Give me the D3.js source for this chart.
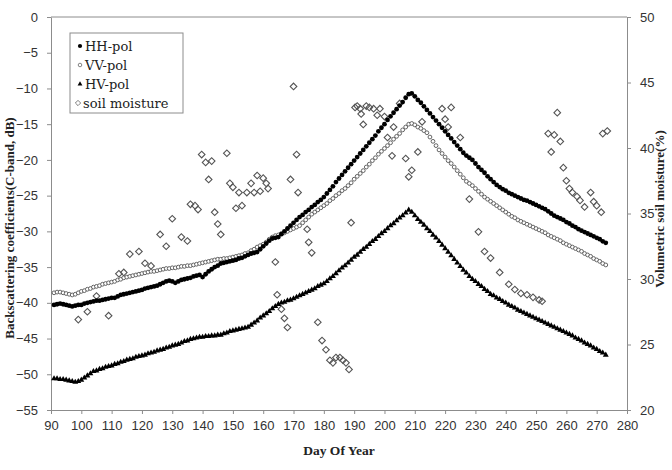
<!DOCTYPE html>
<html>
<head>
<meta charset="utf-8">
<script src="https://cdn.jsdelivr.net/npm/d3@7"></script>
<style>
  body { margin: 0; background: #fff; }
  svg { display: block; font-family: "Liberation Serif", "Times New Roman", serif; }
  .tick text { font-size: 13px; fill: #333; }
  .tick line, .domain { stroke: #8c8c8c; }
</style>
</head>
<body>
<div id="chart"></div>
<script>
// daily series, day 91 .. 273
var days = d3.range(91, 274);

var hhPol = [
  -40.3,-40.2,-40.1,-40.2,-40.3,-40.4,-40.5,-40.4,-40.3,-40.3,
  -40.1,-40.0,-39.9,-39.8,-39.7,-39.7,-39.6,-39.5,-39.4,-39.3,
  -39.3,-39.1,-38.9,-38.8,-38.7,-38.6,-38.5,-38.4,-38.3,-38.2,
  -38.0,-37.9,-37.8,-37.7,-37.6,-37.4,-37.2,-37.0,-36.9,-37.0,
  -37.2,-37.0,-36.8,-36.7,-36.6,-36.5,-36.3,-36.2,-36.1,-36.4,
  -36.0,-35.6,-35.3,-35.0,-34.8,-34.5,-34.4,-34.3,-34.2,-34.1,
  -34.0,-33.8,-33.7,-33.5,-33.3,-33.1,-33.0,-32.9,-32.5,-32.1,
  -31.7,-31.3,-31.0,-30.9,-30.8,-30.4,-30.0,-29.6,-29.2,-28.8,
  -28.4,-28.0,-27.7,-27.3,-27.0,-26.6,-26.3,-25.9,-25.6,-25.2,
  -24.7,-24.2,-23.7,-23.1,-22.6,-22.1,-21.6,-21.1,-20.6,-20.1,
  -19.6,-19.1,-18.6,-18.1,-17.6,-17.1,-16.6,-16.0,-15.5,-15.0,
  -14.4,-13.9,-13.4,-12.9,-12.4,-11.9,-11.3,-10.8,-10.7,-11.1,
  -11.6,-12.0,-12.5,-13.0,-13.5,-14.0,-14.5,-15.0,-15.5,-16.0,
  -16.5,-17.0,-17.5,-18.0,-18.5,-19.0,-19.4,-19.7,-20.0,-20.5,
  -21.0,-21.4,-21.8,-22.3,-22.7,-23.1,-23.5,-23.8,-24.1,-24.3,
  -24.6,-24.8,-25.0,-25.2,-25.4,-25.6,-25.7,-25.9,-26.1,-26.3,
  -26.5,-26.7,-26.9,-27.2,-27.5,-27.8,-28.0,-28.2,-28.4,-28.7,
  -28.9,-29.2,-29.4,-29.7,-29.9,-30.1,-30.3,-30.5,-30.7,-30.9,
  -31.1,-31.4,-31.6
];

var vvPol = [
  -38.6,-38.5,-38.5,-38.6,-38.7,-38.8,-38.9,-38.8,-38.6,-38.4,
  -38.3,-38.1,-38.0,-37.8,-37.7,-37.6,-37.4,-37.3,-37.2,-37.1,
  -37.0,-36.8,-36.7,-36.5,-36.4,-36.3,-36.2,-36.1,-36.0,-35.9,
  -35.8,-35.7,-35.6,-35.6,-35.5,-35.4,-35.3,-35.2,-35.2,-35.1,
  -35.1,-35.0,-34.9,-34.9,-34.8,-34.8,-34.7,-34.6,-34.5,-34.4,
  -34.3,-34.2,-34.1,-34.0,-33.9,-33.9,-33.8,-33.8,-33.7,-33.6,
  -33.5,-33.4,-33.3,-33.1,-33.0,-32.7,-32.5,-32.2,-32.0,-31.8,
  -31.5,-31.1,-30.8,-30.6,-30.5,-30.3,-30.2,-30.0,-29.8,-29.6,
  -29.4,-29.2,-28.8,-28.4,-28.0,-27.6,-27.3,-27.0,-26.7,-26.4,
  -26.1,-25.7,-25.4,-25.0,-24.7,-24.3,-24.0,-23.6,-23.2,-22.7,
  -22.3,-21.9,-21.5,-21.0,-20.6,-20.1,-19.7,-19.2,-18.8,-18.4,
  -18.0,-17.6,-17.1,-16.7,-16.3,-15.8,-15.4,-15.0,-14.9,-15.1,
  -15.4,-15.6,-15.9,-16.2,-16.8,-17.4,-18.0,-18.6,-19.1,-19.6,
  -20.1,-20.5,-21.0,-21.5,-22.0,-22.5,-23.0,-23.3,-23.6,-24.0,
  -24.4,-24.8,-25.2,-25.5,-25.8,-26.1,-26.4,-26.7,-27.0,-27.3,
  -27.6,-27.9,-28.1,-28.4,-28.6,-28.8,-29.0,-29.2,-29.4,-29.6,
  -29.8,-30.0,-30.2,-30.5,-30.7,-30.9,-31.1,-31.3,-31.6,-31.8,
  -32.0,-32.2,-32.4,-32.6,-32.8,-33.1,-33.3,-33.5,-33.8,-34.0,
  -34.2,-34.5,-34.7
];

var hvPol = [
  -50.6,-50.6,-50.7,-50.7,-50.8,-50.9,-51.0,-51.1,-51.0,-50.8,
  -50.5,-50.2,-49.9,-49.6,-49.5,-49.3,-49.2,-49.0,-48.9,-48.8,
  -48.6,-48.5,-48.3,-48.2,-48.0,-47.9,-47.8,-47.6,-47.5,-47.4,
  -47.3,-47.1,-47.0,-46.9,-46.7,-46.6,-46.5,-46.3,-46.2,-46.0,
  -45.9,-45.8,-45.6,-45.4,-45.3,-45.1,-45.0,-44.9,-44.8,-44.8,
  -44.7,-44.7,-44.6,-44.6,-44.5,-44.5,-44.3,-44.2,-44.0,-43.9,
  -43.8,-43.7,-43.6,-43.5,-43.4,-43.1,-42.8,-42.5,-42.1,-41.8,
  -41.5,-41.2,-40.8,-40.5,-40.2,-40.0,-39.9,-39.7,-39.6,-39.4,
  -39.2,-39.0,-38.8,-38.6,-38.4,-38.2,-38.0,-37.7,-37.5,-37.3,
  -37.0,-36.6,-36.3,-35.9,-35.5,-35.1,-34.8,-34.4,-34.0,-33.6,
  -33.3,-32.9,-32.5,-32.2,-31.8,-31.4,-31.1,-30.7,-30.3,-30.0,
  -29.6,-29.2,-28.9,-28.5,-28.1,-27.8,-27.4,-27.0,-27.3,-27.8,
  -28.3,-28.7,-29.1,-29.6,-30.0,-30.5,-30.9,-31.4,-31.9,-32.4,
  -32.9,-33.4,-33.9,-34.4,-34.9,-35.4,-35.8,-36.3,-36.7,-37.0,
  -37.4,-37.7,-38.1,-38.4,-38.8,-39.0,-39.3,-39.5,-39.8,-40.0,
  -40.3,-40.5,-40.7,-41.0,-41.2,-41.4,-41.6,-41.8,-42.0,-42.2,
  -42.4,-42.6,-42.8,-43.0,-43.2,-43.4,-43.6,-43.8,-44.0,-44.2,
  -44.4,-44.6,-44.9,-45.1,-45.3,-45.6,-45.8,-46.0,-46.3,-46.5,
  -46.8,-47.0,-47.3
];

// soil moisture samples (right axis)
var smDay = [99,102,105,109,112.4,114,116,119,121,123,126,128,130,133,135,136,137.5,138.5,
  139.7,141,142,143,144,145,146,148,149,150,151,152,153,154.6,156,157,158,159,160,161,161.6,
  164,164.6,166,167,168,169,170,171,171.5,174.5,175,176,178,179.4,180.7,182,183,184,185.3,186.3,187.3,188.3,
  189,190.3,191,192,192.3,193,194,195,196.4,197.6,198.5,200,201,202.5,203,205,207,208,209,211,212.4,
  219,220,221,222,225,228,231,233,235,238,241,243,245,247,249,251,252,
  254,255,256,257,258,259,260,261,262,263.5,264.5,266,268,269,270,271.5,272,273.5];
var smVal = [26.9,27.5,28.7,27.2,30.4,30.5,31.9,32.1,31.2,31.0,33.4,32.5,34.6,33.2,32.9,35.7,35.6,35.3,
  39.5,38.9,37.6,39.0,35.1,34.2,33.4,39.6,37.3,37.0,35.4,36.6,35.6,36.6,37.3,36.6,37.9,36.7,37.7,37.3,36.9,
  31.3,28.8,27.7,27.0,26.3,37.6,44.7,39.5,36.6,33.8,32.8,32.0,26.7,25.3,24.6,23.8,23.6,24.0,24.0,23.8,23.6,23.1,
  34.3,43.1,43.2,43.0,42.6,41.8,43.2,43.1,43.0,42.5,43.0,42.4,40.8,39.4,41.6,43.4,39.2,37.8,38.3,39.7,42.0,
  43.0,42.2,41.6,43.1,40.8,36.1,33.6,32.1,31.6,30.5,29.6,29.2,28.9,28.8,28.6,28.4,28.3,
  41.1,39.7,41.0,42.7,40.5,38.5,37.5,36.9,36.6,36.3,36.0,35.5,36.6,35.9,35.6,35.1,41.1,41.3];

var legendLabels = ["HH-pol", "VV-pol", "HV-pol", "soil moisture"];
var xTicks = d3.range(90, 281, 10);
var yLeftTicks = d3.range(-55, 1, 5);
var yRightTicks = d3.range(20, 51, 5);

var W = 672, H = 470;
var plot = { left: 51, right: 627, top: 17, bottom: 410 };

var svg = d3.select("#chart").append("svg")
    .attr("width", W)
    .attr("height", H);

var x = d3.scaleLinear().domain([90, 280]).range([plot.left, plot.right]);
var yL = d3.scaleLinear().domain([-55, 0]).range([plot.bottom, plot.top]);
var yR = d3.scaleLinear().domain([20, 50]).range([plot.bottom, plot.top]);

// top border
svg.append("line")
    .attr("x1", plot.left).attr("x2", plot.right)
    .attr("y1", plot.top).attr("y2", plot.top)
    .attr("stroke", "#8c8c8c");

svg.append("g")
    .attr("transform", "translate(0," + plot.bottom + ")")
    .call(d3.axisBottom(x).tickValues(xTicks).tickSize(4).tickSizeOuter(0).tickPadding(7));

svg.append("g")
    .attr("transform", "translate(" + plot.left + ",0)")
    .call(d3.axisLeft(yL).tickValues(yLeftTicks).tickSize(4).tickSizeOuter(0).tickPadding(9));

svg.append("g")
    .attr("transform", "translate(" + plot.right + ",0)")
    .call(d3.axisRight(yR).tickValues(yRightTicks).tickSize(4).tickSizeOuter(0).tickPadding(9));

// axis titles
svg.append("text")
    .attr("transform", "translate(14,228) rotate(-90)")
    .attr("text-anchor", "middle")
    .style("font-weight", "bold").style("font-size", "13px").attr("fill", "#222")
    .text("Backscattering coefficients(C-band, dB)");

svg.append("text")
    .attr("transform", "translate(664,209) rotate(-90)")
    .attr("text-anchor", "middle")
    .style("font-weight", "bold").style("font-size", "13px").attr("fill", "#222")
    .text("Volumetric soil moisture(%)");

svg.append("text")
    .attr("x", (plot.left + plot.right) / 2)
    .attr("y", 455)
    .attr("text-anchor", "middle")
    .style("font-weight", "bold").style("font-size", "13.5px").attr("fill", "#222")
    .text("Day Of Year");

var tri = d3.symbol().type(d3.symbolTriangle).size(15);
var sq = d3.symbol().type(d3.symbolSquare).size(22);

// soil moisture diamonds (rotated squares)
svg.append("g").selectAll("path")
    .data(smDay)
    .enter().append("path")
    .attr("d", sq)
    .attr("transform", function(d, i) { return "translate(" + x(d) + "," + yR(smVal[i]) + ") rotate(45)"; })
    .attr("fill", "none")
    .attr("stroke", "#555")
    .attr("stroke-width", 1.1);

// VV-pol open circles
svg.append("g").selectAll("circle")
    .data(days)
    .enter().append("circle")
    .attr("cx", function(d) { return x(d); })
    .attr("cy", function(d, i) { return yL(vvPol[i]); })
    .attr("r", 1.9)
    .attr("fill", "#fff")
    .attr("stroke", "#555")
    .attr("stroke-width", 0.9);

// HH-pol filled circles
svg.append("g").selectAll("circle")
    .data(days)
    .enter().append("circle")
    .attr("cx", function(d) { return x(d); })
    .attr("cy", function(d, i) { return yL(hhPol[i]); })
    .attr("r", 2.4)
    .attr("fill", "#000");

// HV-pol triangles
svg.append("g").selectAll("path")
    .data(days)
    .enter().append("path")
    .attr("d", tri)
    .attr("transform", function(d, i) { return "translate(" + x(d) + "," + yL(hvPol[i]) + ")"; })
    .attr("fill", "#000");

// legend
var legend = svg.append("g").attr("transform", "translate(70,33)");
legend.append("rect")
    .attr("width", 113).attr("height", 80)
    .attr("fill", "#fff")
    .attr("stroke", "#8c8c8c");

var items = legend.selectAll(".legend")
    .data(legendLabels)
    .enter().append("g")
    .attr("class", "legend")
    .attr("transform", function(d, i) { return "translate(" + (i == 3 ? 8 : 10) + "," + (13 + i * 19) + ")"; });

items.append("path")
    .attr("d", function(d, i) {
        if (i == 2) return d3.symbol().type(d3.symbolTriangle).size(10)();
        if (i == 3) return d3.symbol().type(d3.symbolSquare).size(14)();
        return d3.symbol().type(d3.symbolCircle).size(i == 0 ? 14 : 10)();
    })
    .attr("transform", function(d, i) { return i == 3 ? "rotate(45)" : null; })
    .attr("fill", function(d, i) { return (i == 1 || i == 3) ? "#fff" : "#000"; })
    .attr("stroke", function(d, i) { return (i == 1 || i == 3) ? "#666" : "none"; })
    .attr("stroke-width", 0.8);

items.append("text")
    .attr("x", 5)
    .attr("y", 4.5)
    .style("font-family", "'DejaVu Serif', serif")
    .style("font-size", "13px")
    .attr("fill", "#222")
    .text(function(d) { return d; });
</script>
</body>
</html>
